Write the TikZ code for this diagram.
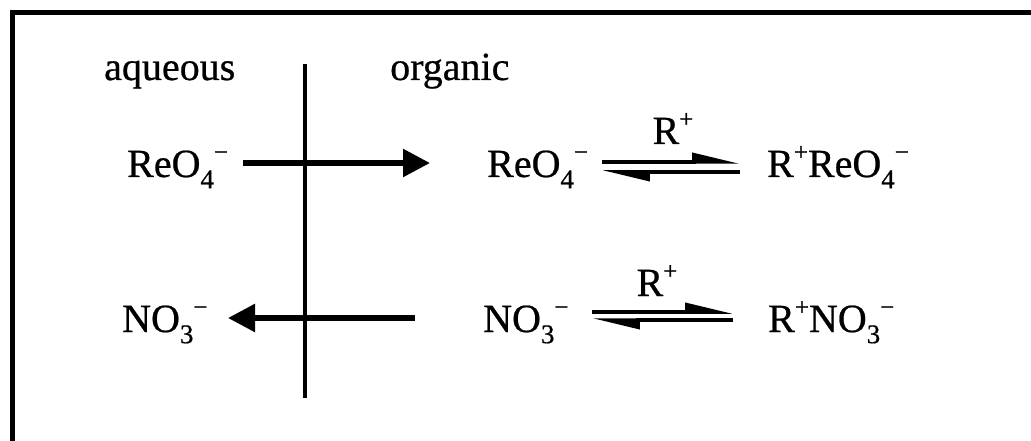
\documentclass[tikz,border=0pt]{standalone}
\usepackage{fontspec}
\setmainfont{Liberation Serif}[FakeBold=0.6]
\usetikzlibrary{arrows.meta}
\newcommand{\sbs}[1]{\raisebox{-0.28em}{\fontsize{27}{27}\selectfont #1}}
\newcommand{\sps}[1]{\raisebox{0.42em}{\fontsize{25}{25}\selectfont #1}}
\begin{document}
\begin{tikzpicture}[x=1pt,y=-1pt,
  txt/.style={font=\fontsize{40}{48}\selectfont, inner sep=0pt, anchor=base west},
  lbl/.style={font=\fontsize{40}{48}\selectfont, inner sep=0pt, anchor=base},
  bigarrow/.style={line width=5.5pt, -{Triangle[length=27pt,width=27pt]}},
  eqarrow/.style={line width=3.5pt, -{Triangle[harpoon,length=40pt,width=18pt]}},
  frame/.style={line width=5pt}]
\useasboundingbox (0,0) rectangle (1031,441);
% frame
\coordinate (fbl) at (12.5,441);
\coordinate (ftl) at (12.5,12.5);
\coordinate (ftr) at (1031,12.5);
\draw[frame] (fbl) -- (ftl) -- (ftr);
% headers
\node[txt] (aq) at (104,80) {aqueous};
\node[txt] (org) at (390,80) {organic};
% interface
\coordinate (itop) at (305,64);
\coordinate (ibot) at (305,398);
\draw[line width=3.5pt] (itop) -- (ibot);
% row 1
\node[txt] (re1) at (127,177) {ReO\sbs{4}\sps{−}};
\node[txt] (re2) at (487,177) {ReO\sbs{4}\sps{−}};
\node[txt] (rre) at (767,177) {R\sps{+}ReO\sbs{4}\sps{−}};
\coordinate (a1s) at (243,163);
\coordinate (a1e) at (430,163);
\draw[bigarrow] (a1s) -- (a1e);
\coordinate (e1l) at (602,162);
\coordinate (e1r) at (740,162);
\coordinate (e1lb) at (602,172);
\coordinate (e1rb) at (740,172);
\draw[eqarrow] (e1l) -- (e1r);
\draw[eqarrow] (e1rb) -- (e1lb);
\node[lbl] (r1) at (673,144) {R\sps{+}};
% row 2
\node[txt] (no1) at (122,332) {NO\sbs{3}\sps{−}};
\node[txt] (no2) at (483,332) {NO\sbs{3}\sps{−}};
\node[txt] (rno) at (768,332) {R\sps{+}NO\sbs{3}\sps{−}};
\coordinate (a2s) at (415,318);
\coordinate (a2e) at (228,318);
\draw[bigarrow] (a2s) -- (a2e);
\coordinate (e2l) at (592,312);
\coordinate (e2r) at (733,312);
\coordinate (e2lb) at (592,320);
\coordinate (e2rb) at (733,320);
\draw[eqarrow] (e2l) -- (e2r);
\draw[eqarrow] (e2rb) -- (e2lb);
\node[lbl] (r2) at (657,296) {R\sps{+}};
\end{tikzpicture}
\end{document}
